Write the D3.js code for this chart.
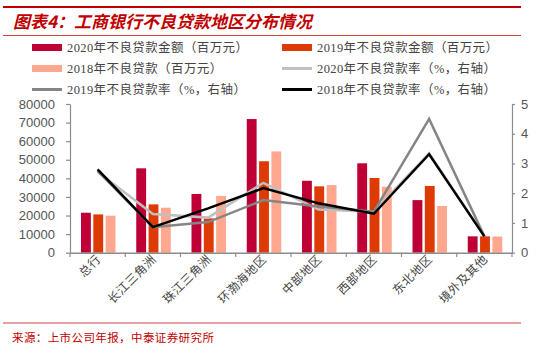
<!DOCTYPE html>
<html><head><meta charset="utf-8">
<script src="https://cdn.jsdelivr.net/npm/d3@7"></script>
<style>body{margin:0;background:#fff}svg{display:block}</style>
</head><body>
<svg id="c" width="550" height="354"></svg>
<script>
const categories = ["总行","长江三角洲","珠江三角洲","环渤海地区","中部地区","西部地区","东北地区","境外及其他"];
const npl2020 = [21500,45400,31600,71900,38700,48100,28300,8800];
const npl2019 = [20600,26000,18500,49200,35700,40200,35900,8800];
const npl2018 = [19900,24200,30500,54500,36400,35500,25100,8700];
const rate2020 = [2.72,1.30,1.18,2.35,1.45,1.38,3.34,0.55];
const rate2019 = [2.75,0.86,1.03,1.77,1.55,1.38,4.50,0.55];
const rate2018 = [2.80,0.86,1.49,2.17,1.66,1.31,3.31,0.55];
const leftTicks = [0,10000,20000,30000,40000,50000,60000,70000,80000];
const rightTicks = [0,1,2,3,4,5];
const barSeries = [
  {name:"2020年不良贷款金额（百万元）", values:npl2020, color:"#BE0036"},
  {name:"2019年不良贷款金额（百万元）", values:npl2019, color:"#DD3A06"},
  {name:"2018年不良贷款（百万元）", values:npl2018, color:"#FFA78F"}
];
const lineSeries = [
  {name:"2020年不良贷款率（%，右轴）", values:rate2020, color:"#C0C0C0"},
  {name:"2019年不良贷款率（%，右轴）", values:rate2019, color:"#858585"},
  {name:"2018年不良贷款率（%，右轴）", values:rate2018, color:"#000000"}
];

const svg = d3.select("#c");
const red = "#C00000";
const cjk = "'Liberation Serif','Noto Sans CJK SC',serif";

// header / footer rules
svg.append("line").attr("x1",3).attr("x2",521).attr("y1",7).attr("y2",7).attr("stroke",red).attr("stroke-width",2);
svg.append("line").attr("x1",3).attr("x2",521).attr("y1",35.5).attr("y2",35.5).attr("stroke","#D04040").attr("stroke-width",1);
svg.append("line").attr("x1",3).attr("x2",521).attr("y1",323).attr("y2",323).attr("stroke","#E08080").attr("stroke-width",1.5);
svg.append("text").attr("x",13).attr("y",28).attr("fill",red)
  .style("font-family","'Noto Sans CJK SC',sans-serif").style("font-size","17px").style("font-weight","bold").style("font-style","italic")
  .text("图表4：工商银行不良贷款地区分布情况");
svg.append("text").attr("x",12).attr("y",342).attr("fill",red)
  .style("font-family","'Noto Sans CJK SC',sans-serif").style("font-size","11.5px").style("letter-spacing","0.4px")
  .text("来源：上市公司年报，中泰证券研究所");

// scales
const x0 = d3.scaleBand().domain(categories).range([70,512]).paddingInner(0).paddingOuter(0);
const y = d3.scaleLinear().domain([0,80000]).range([252.7,104]);
const y2 = d3.scaleLinear().domain([0,5]).range([252.7,104]);
const x1 = d3.scaleBand().domain(barSeries.map(d=>d.name)).range([11,45.5]).paddingInner(0.2).paddingOuter(0);

// bars
barSeries.forEach(s=>{
  svg.append("g").selectAll("rect").data(s.values).join("rect")
    .attr("x",(d,i)=>x0(categories[i])+x1(s.name))
    .attr("width",x1.bandwidth())
    .attr("y",d=>y(d)).attr("height",d=>y(0)-y(d))
    .attr("fill",s.color);
});

// lines
const line = d3.line().x((d,i)=>x0(categories[i])+x0.bandwidth()/2).y(d=>y2(d));
lineSeries.forEach(s=>{
  svg.append("path").datum(s.values).attr("d",line).attr("fill","none")
    .attr("stroke",s.color).attr("stroke-width",2.5).attr("stroke-linejoin","miter");
});

// axes
const axisColor = "#8C8C8C";
const tickFont = "Arial, 'Liberation Sans', sans-serif";
const gl = svg.append("g").attr("transform","translate(70,0)")
  .call(d3.axisLeft(y).tickValues(leftTicks).tickSize(4).tickSizeOuter(0).tickFormat(d3.format("d")));
const gr = svg.append("g").attr("transform","translate(512,0)")
  .call(d3.axisRight(y2).tickValues(rightTicks).tickSize(3).tickSizeOuter(0).tickFormat(d3.format("d")));
const gb = svg.append("g").attr("transform","translate(0,252.7)")
  .call(d3.axisBottom(x0).tickSize(0).tickFormat(""));
[gl,gr].forEach(g=>{
  g.selectAll("path,line").attr("stroke",axisColor).attr("stroke-width",1.2);
  g.selectAll("text").attr("fill","#555").style("font-family",tickFont).style("font-size","13px");
});
gl.selectAll("text").attr("x",-15);
gr.selectAll("text").attr("x",9);
gb.select("path").attr("stroke",axisColor).attr("stroke-width",1.5);
// category boundary ticks
const bounds = categories.map(c=>x0(c)).concat([512]);
svg.append("g").selectAll("line").data(bounds).join("line")
  .attr("x1",d=>d).attr("x2",d=>d).attr("y1",252.7).attr("y2",257).attr("stroke",axisColor).attr("stroke-width",1.2);

// category labels rotated
svg.append("g").selectAll("text").data(categories).join("text")
  .attr("transform",c=>`translate(${x0(c)+x0.bandwidth()/2+4},${260}) rotate(-45)`)
  .attr("text-anchor","end").attr("fill","#444")
  .style("font-family",cjk).style("font-size","12px").style("letter-spacing","0.5px")
  .text(d=>d);

// legend
const legend = [
  {s:barSeries[0],type:"bar",x:32,y:47.5},
  {s:barSeries[1],type:"bar",x:282,y:47.5},
  {s:barSeries[2],type:"bar",x:32,y:68.5},
  {s:lineSeries[0],type:"line",x:282,y:68.5},
  {s:lineSeries[1],type:"line",x:32,y:89.5},
  {s:lineSeries[2],type:"line",x:282,y:89.5}
];
const lg = svg.append("g").selectAll("g").data(legend).join("g").attr("transform",d=>`translate(${d.x},${d.y})`);
lg.append("rect").attr("x",0).attr("width",30)
  .attr("y",d=>d.type==="bar"?-3.5:-1.5).attr("height",d=>d.type==="bar"?7:3)
  .attr("fill",d=>d.s.color);
lg.append("text").attr("x",35).attr("y",4.5).attr("fill","#444")
  .style("font-family",cjk).style("font-size","12.5px").style("letter-spacing","0.4px")
  .text(d=>d.s.name);
</script>
</body></html>
